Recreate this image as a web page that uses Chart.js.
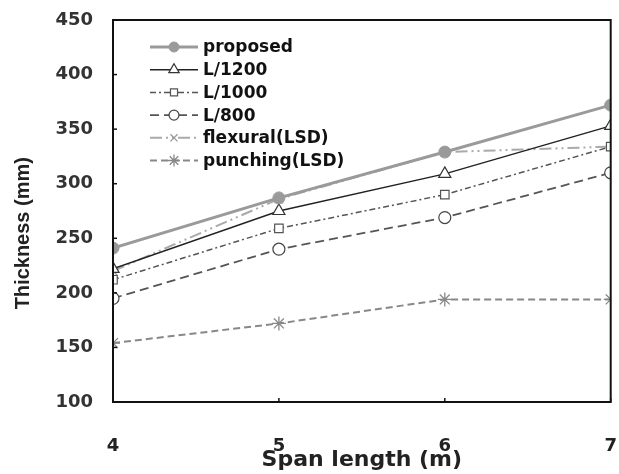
<!DOCTYPE html>
<html>
<head>
<meta charset="utf-8">
<script src="https://cdn.jsdelivr.net/npm/chart.js@4"></script>
<style>
  html, body { margin: 0; padding: 0; background: #fff; }
  #wrap { width: 619px; height: 474px; }
</style>
</head>
<body>
<div id="wrap"><canvas id="chart" width="619" height="474"></canvas></div>
<script>
// span length (m)
const spans = [4, 5, 6, 7];
// thickness (mm)
const proposed = [241, 287, 329, 372];
const l1200 = [222, 275, 309, 353];
const l1000 = [212, 259, 290, 334];
const l800 = [195, 240, 269, 310];
const flexural = [220, 286, 329, 334];
const punching = [154, 172, 194, 194];
const yTicks = [100, 150, 200, 250, 300, 350, 400, 450];

function toPts(vals) {
    return vals.map((v, i) => ({ x: spans[i], y: v }));
}

// box around plot area, inward ticks, and a legend with line samples
const framePlugin = {
    id: 'frame',
    afterDraw(chart) {
        const ctx = chart.ctx;
        const a = chart.chartArea;
        const xs = chart.scales.x, ys = chart.scales.y;
        ctx.save();
        ctx.strokeStyle = '#111';
        ctx.lineWidth = 2;
        ctx.strokeRect(a.left, a.top, a.right - a.left, a.bottom - a.top);
        ctx.lineWidth = 1.5;
        yTicks.forEach(t => {
            const y = ys.getPixelForValue(t);
            ctx.beginPath(); ctx.moveTo(a.left, y); ctx.lineTo(a.left + 4, y); ctx.stroke();
        });
        spans.forEach(t => {
            const x = xs.getPixelForValue(t);
            ctx.beginPath(); ctx.moveTo(x, a.bottom); ctx.lineTo(x, a.bottom - 4); ctx.stroke();
        });

        // legend
        const x0 = 150, x1 = 198, tx = 203;
        let y = 47;
        ctx.font = 'bold 17px "DejaVu Sans", sans-serif';
        ctx.textBaseline = 'middle';
        chart.data.datasets.forEach(ds => {
            ctx.save();
            ctx.strokeStyle = ds.borderColor;
            ctx.lineWidth = ds.borderWidth;
            ctx.setLineDash(ds.borderDash || []);
            ctx.beginPath(); ctx.moveTo(x0, y); ctx.lineTo(x1, y); ctx.stroke();
            ctx.restore();
            ctx.save();
            ctx.strokeStyle = ds.pointBorderColor;
            ctx.fillStyle = ds.pointBackgroundColor;
            ctx.lineWidth = ds.pointBorderWidth;
            Chart.helpers.drawPoint(ctx, {
                pointStyle: ds.pointStyle, radius: ds.pointRadius - 1, rotation: 0, borderWidth: ds.pointBorderWidth
            }, (x0 + x1) / 2, y);
            ctx.restore();
            ctx.fillStyle = '#111';
            ctx.fillText(ds.label, tx, y + 1);
            y += 22.7;
        });
        ctx.restore();
    }
};

const ctx = document.getElementById('chart').getContext('2d');
new Chart(ctx, {
    type: 'scatter',
    data: {
        datasets: [
            { label: 'proposed', data: toPts(proposed), showLine: true,
              borderColor: '#9a9a9a', borderWidth: 3, pointStyle: 'circle', pointRadius: 6,
              pointBackgroundColor: '#9a9a9a', pointBorderColor: '#9a9a9a', pointBorderWidth: 1 },
            { label: 'L/1200', data: toPts(l1200), showLine: true,
              borderColor: '#222', borderWidth: 1.5, pointStyle: 'triangle', pointRadius: 7,
              pointBackgroundColor: '#fff', pointBorderColor: '#333', pointBorderWidth: 1.2 },
            { label: 'L/1000', data: toPts(l1000), showLine: true,
              borderColor: '#555', borderWidth: 1.5, borderDash: [6, 3, 2, 3], pointStyle: 'rect', pointRadius: 6,
              pointBackgroundColor: '#fff', pointBorderColor: '#555', pointBorderWidth: 1.2 },
            { label: 'L/800', data: toPts(l800), showLine: true,
              borderColor: '#555', borderWidth: 1.8, borderDash: [9, 5], pointStyle: 'circle', pointRadius: 6,
              pointBackgroundColor: '#fff', pointBorderColor: '#444', pointBorderWidth: 1.2 },
            { label: 'flexural(LSD)', data: toPts(flexural), showLine: true,
              borderColor: '#aaa', borderWidth: 2, borderDash: [12, 4, 2, 4, 2, 4], pointStyle: 'crossRot', pointRadius: 6,
              pointBackgroundColor: '#fff', pointBorderColor: '#999', pointBorderWidth: 1.3 },
            { label: 'punching(LSD)', data: toPts(punching), showLine: true,
              borderColor: '#888', borderWidth: 2, borderDash: [7, 4], pointStyle: 'star', pointRadius: 7,
              pointBackgroundColor: '#fff', pointBorderColor: '#888', pointBorderWidth: 1.3 }
        ]
    },
    options: {
        responsive: false,
        animation: false,
        layout: { padding: { top: 20, right: 7, left: 0, bottom: 0 } },
        plugins: { legend: { display: false }, tooltip: { enabled: false } },
        scales: {
            x: {
                type: 'linear', min: 4, max: 7,
                afterBuildTicks: s => { s.ticks = spans.map(v => ({ value: v })); },
                afterFit: s => { s.height = 72; },
                grid: { display: false, drawTicks: true, tickLength: 34 },
                border: { display: false },
                ticks: { color: '#222', padding: 0, font: { family: '"DejaVu Sans"', size: 18, weight: 'bold' } },
                title: { display: true, text: 'Span length (m)', color: '#222', padding: { top: 0, bottom: 1 },
                         font: { family: '"DejaVu Sans"', size: 22, weight: 'bold' } }
            },
            y: {
                min: 100, max: 450,
                afterBuildTicks: s => { s.ticks = yTicks.map(v => ({ value: v })); },
                afterFit: s => { s.width = 113; },
                grid: { display: false, drawTicks: true, tickLength: 20 },
                border: { display: false },
                ticks: { color: '#333', padding: 0, font: { family: '"DejaVu Sans"', size: 18, weight: 'bold' } },
                // trailing spaces push the centred title down a little, as in the original
                title: { display: true, text: 'Thickness (mm)        ', color: '#222', padding: { top: 11, bottom: 0 },
                         font: { family: '"Liberation Sans", Arial', size: 20, weight: 'bold' } }
            }
        }
    },
    plugins: [framePlugin]
});
</script>
</body>
</html>
